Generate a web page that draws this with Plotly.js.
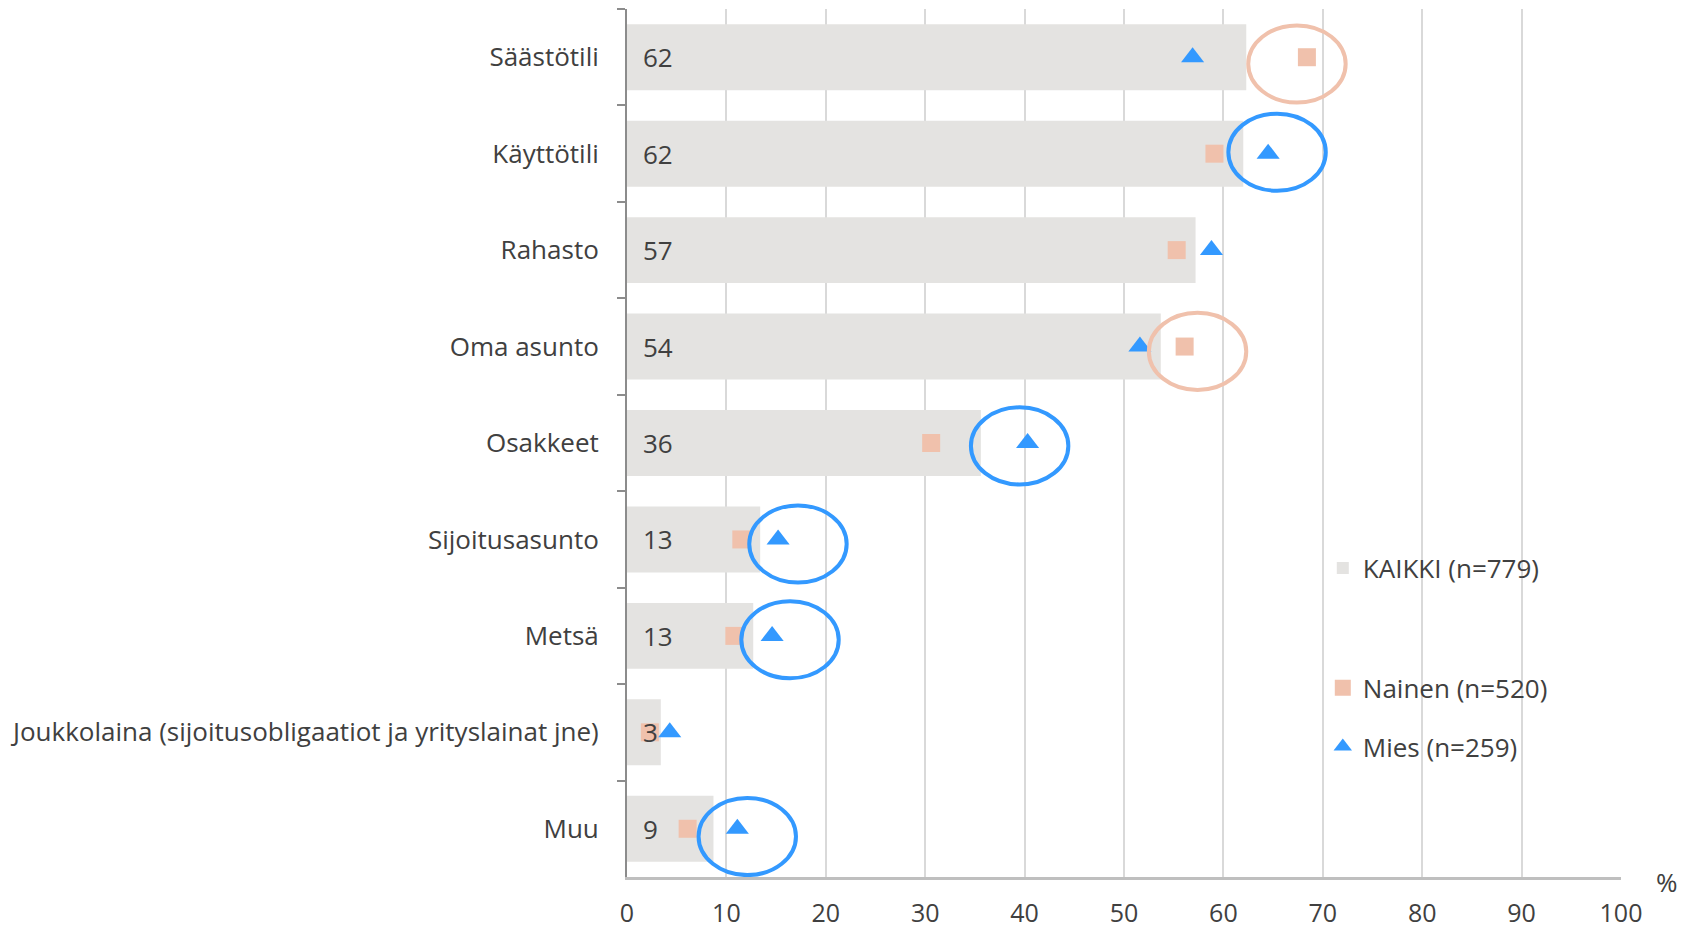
<!DOCTYPE html>
<html>
<head>
<meta charset="utf-8">
<script src="https://cdn.plot.ly/plotly-3.0.1.min.js"></script>
<style>
  html, body { margin: 0; padding: 0; background: #fff; }
  #chart { width: 1681px; height: 929px; }
</style>
</head>
<body>
<div id="chart"></div>
<script>
// Categories, top to bottom
const categories = [
    'Säästötili',
    'Käyttötili',
    'Rahasto',
    'Oma asunto',
    'Osakkeet',
    'Sijoitusasunto',
    'Metsä',
    'Joukkolaina (sijoitusobligaatiot ja yrityslainat jne)',
    'Muu'
];

// Series values (%)
const kaikki = [62.3, 62.0, 57.2, 53.7, 35.6, 13.4, 12.7, 3.4, 8.7];
const nainen = [68.4, 59.1, 55.3, 56.1, 30.6, 11.5, 10.8, 2.3, 6.1];
const mies   = [56.9, 64.5, 58.8, 51.6, 40.3, 15.2, 14.6, 4.3, 11.1];

const seriesNames = ['KAIKKI (n=779)', 'Nainen (n=520)', 'Mies (n=259)'];
const xTicks = [0, 10, 20, 30, 40, 50, 60, 70, 80, 90, 100];

// Markers that are circled in the original
const highlights = [
    { cat: 'Säästötili', series: 'nainen' },
    { cat: 'Käyttötili', series: 'mies' },
    { cat: 'Oma asunto', series: 'nainen' },
    { cat: 'Osakkeet', series: 'mies' },
    { cat: 'Sijoitusasunto', series: 'mies' },
    { cat: 'Metsä', series: 'mies' },
    { cat: 'Muu', series: 'mies' }
];

const FONT = '"Open Sans", "Noto Sans", sans-serif';
const TEXT = '#404040';
const PINK = '#F0C1AC';
const BLUE = '#3399FF';

const traces = [
    {
        type: 'bar',
        orientation: 'h',
        name: seriesNames[0],
        x: kaikki,
        y: categories,
        marker: { color: '#E4E3E1' },
        legend: 'legend',
        hoverinfo: 'x+y'
    },
    {
        type: 'scatter',
        mode: 'markers',
        name: seriesNames[1],
        x: nainen,
        y: categories,
        marker: { symbol: 'square', size: 18, color: PINK },
        legend: 'legend2',
        legendgroup: 'g1'
    },
    {
        type: 'scatter',
        mode: 'markers',
        name: seriesNames[2],
        x: mies,
        y: categories,
        marker: { symbol: 'triangle-up', size: 20, color: BLUE },
        legend: 'legend2',
        legendgroup: 'g2'
    }
];

// value labels at the start of each bar
const annotations = categories.map((c, i) => ({
    x: 0,
    y: c,
    xref: 'x',
    yref: 'y',
    xanchor: 'left',
    xshift: 14,
    text: String(Math.round(kaikki[i])),
    showarrow: false,
    font: { family: FONT, size: 26, color: TEXT }
}));

annotations.push({
    xref: 'paper', yref: 'paper',
    x: 1.033, y: -0.006,
    xanchor: 'left', yanchor: 'middle',
    text: '%',
    showarrow: false,
    font: { family: FONT, size: 26, color: TEXT }
});

// ellipses round the highlighted markers (hand-placed rings, so a small nudge each)
const ringNudge = {
    'Säästötili': [-1.0, 0.07],
    'Käyttötili': [0.9, -0.015],
    'Oma asunto': [1.3, 0.05],
    'Osakkeet': [-0.8, 0.03],
    'Sijoitusasunto': [2.0, 0.047],
    'Metsä': [1.8, 0.04],
    'Muu': [1.0, 0.08]
};
const seriesData = { nainen: nainen, mies: mies };
const shapes = highlights.map(h => {
    const i = categories.indexOf(h.cat);
    const n = ringNudge[h.cat] || [0.8, 0.05];
    const cx = seriesData[h.series][i] + n[0];
    const cy = i + n[1];
    return {
        type: 'circle',
        xref: 'x', yref: 'y',
        x0: cx - 4.9, x1: cx + 4.9,
        y0: cy - 0.4, y1: cy + 0.4,
        line: { color: h.series === 'mies' ? BLUE : PINK, width: 4 },
        layer: 'above'
    };
});

// white panel behind the legend
shapes.push({
    type: 'rect',
    xref: 'paper', yref: 'paper',
    x0: 0.697, x1: 0.997,
    y0: 0.115, y1: 0.391,
    fillcolor: '#ffffff',
    line: { width: 0 },
    layer: 'between'
});

const layout = {
    width: 1681,
    height: 929,
    margin: { l: 627, r: 60, t: 9, b: 52 },
    paper_bgcolor: '#ffffff',
    plot_bgcolor: '#ffffff',
    font: { family: FONT, size: 26, color: TEXT },
    bargap: 0.316,
    showlegend: true,
    xaxis: {
        range: [0, 100],
        tickvals: xTicks,
        ticktext: xTicks.map(String),
        showgrid: true,
        gridcolor: '#D9D9D9',
        gridwidth: 2,
        zeroline: false,
        showline: true,
        linecolor: '#BFBFBF',
        linewidth: 2.5,
        ticks: '',
        ticklabelstandoff: 12,
        tickfont: { family: FONT, size: 25, color: TEXT },
        fixedrange: true
    },
    yaxis: {
        type: 'category',
        categoryorder: 'array',
        categoryarray: categories,
        range: [categories.length - 0.5, -0.5],
        autorange: false,
        showgrid: false,
        zeroline: false,
        showline: true,
        linecolor: '#8C8C8C',
        linewidth: 2,
        ticks: 'outside',
        tickson: 'boundaries',
        ticklen: 8,
        tickwidth: 2,
        tickcolor: '#8C8C8C',
        ticklabelstandoff: 21,
        tickfont: { family: FONT, size: 26, color: TEXT },
        fixedrange: true
    },
    legend: {
        x: 0.7, y: 0.356,
        xanchor: 'left', yanchor: 'middle',
        bgcolor: 'rgba(255,255,255,0)',
        borderwidth: 0,
        font: { family: FONT, size: 26, color: TEXT }
    },
    legend2: {
        x: 0.7, y: 0.184,
        xanchor: 'left', yanchor: 'middle',
        bgcolor: 'rgba(255,255,255,0)',
        borderwidth: 0,
        traceorder: 'grouped',
        tracegroupgap: 22,
        font: { family: FONT, size: 26, color: TEXT }
    },
    annotations: annotations,
    shapes: shapes
};

Plotly.newPlot('chart', traces, layout, { displayModeBar: false, staticPlot: true });
</script>
</body>
</html>
